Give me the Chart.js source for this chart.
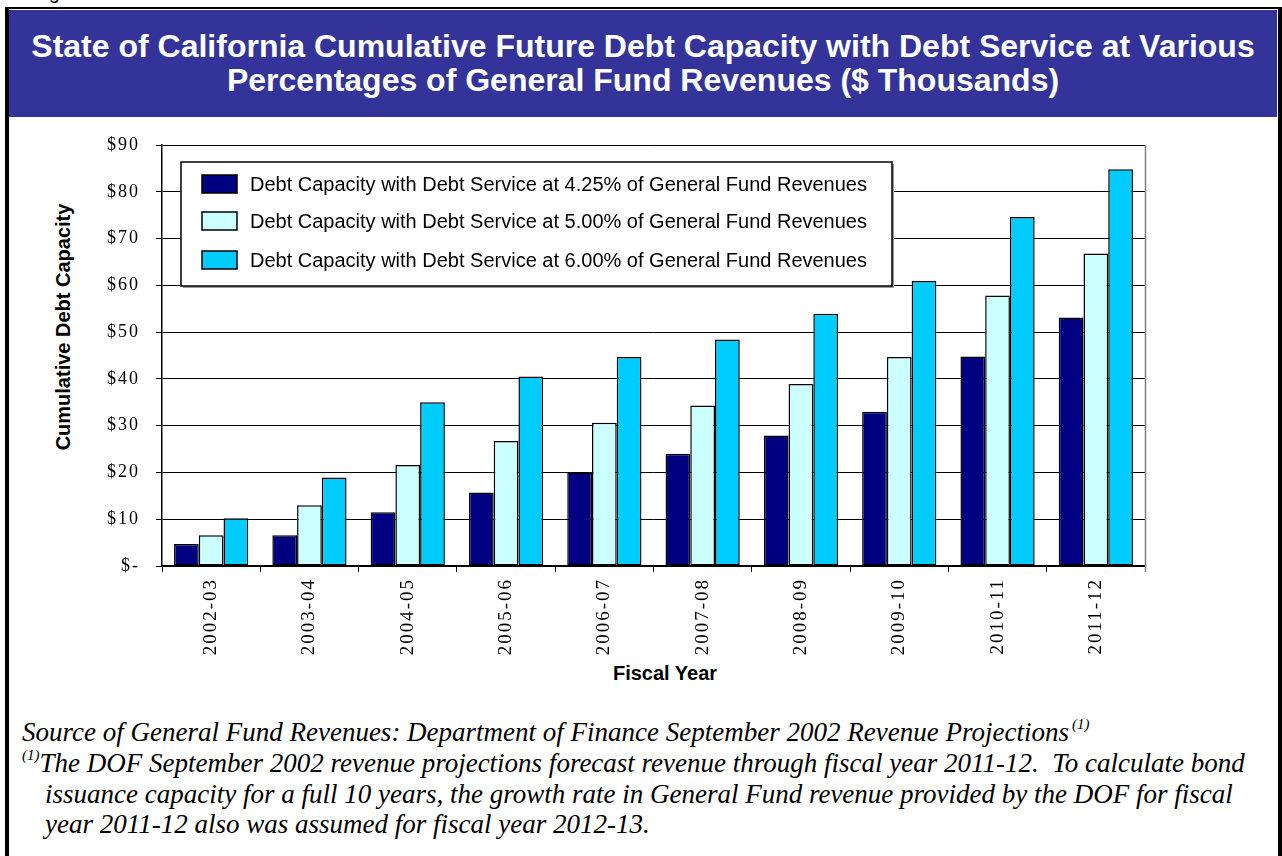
<!DOCTYPE html>
<html>
<head>
<meta charset="utf-8">
<title>Cumulative Future Debt Capacity</title>
<script src="https://cdn.jsdelivr.net/npm/chart.js@4.4.1/dist/chart.umd.min.js"></script>
<style>
    html, body { margin: 0; padding: 0; background: #fff; }
    body { width: 1282px; height: 856px; position: relative; overflow: hidden; }
    .fig-no { position: absolute; left: 32px; top: -19px; font: 20px "Liberation Sans", Arial, sans-serif; color: #000; }
    .frame { position: absolute; left: 5px; top: 7px; width: 1269px; height: 860px;
             border-top: 2px solid #000; border-left: 4px solid #000; border-right: 5px solid #000; }
    .header { position: absolute; left: 9px; top: 10px; width: 1268px; height: 107px; background: #333399; }
    .header div { position: absolute; left: 0; width: 100%; text-align: center; color: #fff;
                  font: bold 32px "Liberation Sans", Arial, sans-serif; white-space: nowrap; }
    .axis-title { position: absolute; font: bold 20px "Liberation Sans", Arial, sans-serif; color: #000; white-space: nowrap; }
    .note { position: absolute; font: italic 27px "Liberation Serif", "Times New Roman", serif; color: #000; white-space: nowrap; }
    .note sup { font-size: 15px; vertical-align: 0; position: relative; top: -12px; }
    #grafico { position: absolute; left: 0; top: 0; }
</style>
</head>
<body>
<div class="fig-no">Figure</div>
<div class="frame"></div>
<div class="header">
    <div style="top: 18px;">State of California Cumulative Future Debt Capacity with Debt Service at Various</div>
    <div style="top: 52px;">Percentages of General Fund Revenues ($ Thousands)</div>
</div>

<div class="axis-title" style="left: 63px; top: 327px; transform: translate(-50%, -50%) rotate(-90deg);">Cumulative Debt Capacity</div>
<div class="axis-title" style="left: 665px; top: 673px; transform: translate(-50%, -50%);">Fiscal Year</div>

<div class="note" style="left: 22px; top: 717px;">Source of General Fund Revenues: Department of Finance September 2002 Revenue Projections<sup>&thinsp;(1)</sup></div>
<div class="note" style="left: 22px; top: 748px;"><sup>(1)</sup>The DOF September 2002 revenue projections forecast revenue through fiscal year 2011-12.&nbsp; To calculate bond</div>
<div class="note" style="left: 45px; top: 779px;">issuance capacity for a full 10 years, the growth rate in General Fund revenue provided by the DOF for fiscal</div>
<div class="note" style="left: 45px; top: 809px;">year 2011-12 also was assumed for fiscal year 2012-13.</div>

<canvas id="grafico" width="1282" height="856"></canvas>

<script>
// Anos fiscais (eixo X)
const anosFiscais = ['2002-03', '2003-04', '2004-05', '2005-06', '2006-07',
                     '2007-08', '2008-09', '2009-10', '2010-11', '2011-12'];

// Capacidade acumulada para cada percentual da receita do General Fund
const capacidade425 = [4.7, 6.6, 11.5, 15.7, 20.0, 24.0, 27.9, 33.0, 44.8, 53.1];
const capacidade500 = [6.6, 13.0, 21.6, 26.7, 30.6, 34.3, 38.9, 44.7, 57.8, 66.8];
const capacidade600 = [10.2, 18.9, 35.0, 40.5, 44.7, 48.4, 53.9, 60.9, 74.6, 84.8];

const rotulosSeries = [
    'Debt Capacity with Debt Service at 4.25% of General Fund Revenues',
    'Debt Capacity with Debt Service at 5.00% of General Fund Revenues',
    'Debt Capacity with Debt Service at 6.00% of General Fund Revenues'
];

// Marcas do eixo Y
const ticksY = [0, 10, 20, 30, 40, 50, 60, 70, 80, 90];

const coresSeries = ['#000080', '#CCFFFF', '#00CCFF'];

const fonteSerif = '"Liberation Serif", "Times New Roman", serif';
const fonteSans = '"Liberation Sans", Arial, sans-serif';

/**
 * Espaçamento entre letras dos rótulos dos eixos (estilo Excel antigo).
 */
const espacamentoTexto = {
    id: 'espacamentoTexto',
    beforeDraw(chart) { chart.ctx.letterSpacing = '2px'; },
    afterDraw(chart) { chart.ctx.letterSpacing = '0px'; }
};

/**
 * Borda direita cinza da área de plotagem.
 */
const bordaPlot = {
    id: 'bordaPlot',
    afterDatasetsDraw(chart) {
        const { ctx, chartArea } = chart;
        ctx.save();
        ctx.strokeStyle = '#808080';
        ctx.lineWidth = 1.5;
        ctx.beginPath();
        ctx.moveTo(chartArea.right + 0.5, chartArea.top);
        ctx.lineTo(chartArea.right + 0.5, chartArea.bottom + 6);
        ctx.stroke();
        ctx.restore();
    }
};

/**
 * Legenda em caixa branca com borda, desenhada por cima das linhas de grade.
 */
const legendaCaixa = {
    id: 'legendaCaixa',
    afterDatasetsDraw(chart, args, opts) {
        const { ctx } = chart;
        ctx.save();
        ctx.letterSpacing = '0px';
        // sombra leve + caixa
        ctx.fillStyle = '#9a9a9a';
        ctx.fillRect(opts.x + 2, opts.y + 2, opts.w, opts.h);
        ctx.fillStyle = '#fff';
        ctx.fillRect(opts.x, opts.y, opts.w, opts.h);
        ctx.strokeStyle = '#000';
        ctx.lineWidth = 1.5;
        ctx.strokeRect(opts.x, opts.y, opts.w, opts.h);

        ctx.font = opts.font;
        ctx.textBaseline = 'middle';
        ctx.textAlign = 'left';
        chart.data.datasets.forEach((ds, i) => {
            const cy = opts.y + opts.linhas[i];
            ctx.fillStyle = ds.backgroundColor;
            ctx.fillRect(opts.caixaX, cy - 9, 35, 18);
            ctx.strokeStyle = '#000';
            ctx.lineWidth = 1.5;
            ctx.strokeRect(opts.caixaX, cy - 9, 35, 18);
            ctx.fillStyle = '#000';
            ctx.fillText(ds.label, opts.textoX, cy + 1);
        });
        ctx.restore();
    }
};

const ctx = document.getElementById('grafico').getContext('2d');

const datasets = [capacidade425, capacidade500, capacidade600].map((valores, i) => ({
    label: rotulosSeries[i],
    data: valores,
    backgroundColor: coresSeries[i],
    borderColor: '#000',
    borderWidth: 1.5,
    borderSkipped: false,
    categoryPercentage: 0.755,
    barPercentage: 1.0
}));

new Chart(ctx, {
    type: 'bar',
    data: { labels: anosFiscais, datasets },
    plugins: [espacamentoTexto, bordaPlot, legendaCaixa],
    options: {
        responsive: false,
        animation: false,
        devicePixelRatio: 1,
        layout: { padding: { left: 0, top: 145, right: 137, bottom: 166 } },
        scales: {
            x: {
                afterFit: (scale) => { scale.height = 124; },
                grid: { drawOnChartArea: false, drawTicks: true, tickLength: 6, color: '#000', offset: true },
                border: { color: '#000', width: 1.5 },
                ticks: {
                    color: '#000',
                    font: { family: fonteSerif, size: 19 },
                    minRotation: 90,
                    maxRotation: 90,
                    padding: 6,
                    autoSkip: false
                }
            },
            y: {
                min: 0,
                max: 90,
                afterFit: (scale) => { scale.width = 162; },
                afterBuildTicks: (scale) => { scale.ticks = ticksY.map(v => ({ value: v })); },
                grid: { color: '#000', lineWidth: 1, tickLength: 6 },
                border: { color: '#000', width: 1.5 },
                ticks: {
                    color: '#000',
                    font: { family: fonteSerif, size: 18 },
                    padding: 16,
                    callback: (v) => v === 0 ? '$-' : '$' + v
                }
            }
        },
        plugins: {
            legend: { display: false },
            tooltip: { enabled: false },
            legendaCaixa: {
                x: 181, y: 162, w: 711, h: 124,
                caixaX: 202, textoX: 250,
                linhas: [22, 59, 98],
                font: '20px ' + fonteSans
            }
        }
    }
});
</script>
</body>
</html>
